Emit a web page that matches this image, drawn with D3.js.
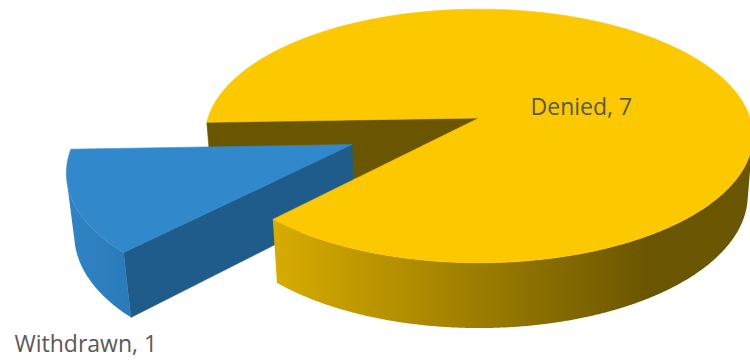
<!DOCTYPE html>
<html><head><meta charset="utf-8">
<script src="https://cdn.jsdelivr.net/npm/d3@7"></script>
<style>html,body{margin:0;padding:0;background:#fff} svg{display:block}</style>
</head><body>
<script>
// ---- data ----
const categories = ["Denied", "Withdrawn"];
const values = [7, 1];
const labels = ["Denied, 7", "Withdrawn, 1"];

// ---- view / style config ----
const W = 750, H = 360;
const view = {cx: 479, cy: 118, F: 1700, D: 1, tilt: 27.3 * Math.PI / 180,
              R: 0.1594, depth: 0.0396, startDeg: 268};
const explode = {Denied: 0, Withdrawn: 0.0797};
const palette = {
  Denied:    {top: "#FCC800", side: "#6B5600", wall: [["0", "#D8AC00"], ["0.78", "#6B5600"], ["1", "#6A5500"]]},
  Withdrawn: {top: "#3189CB", side: "#1F5C8C", wall: [["0", "#2F84C6"], ["1", "#2A7AB9"]]}
};
const labelPos = {
  Denied:    {r: 0.4, z: 0, dx: 6, dy: 17},
  Withdrawn: {r: 1, z: -1, dx: 4.5, dy: 86.5}
};

const sinA = Math.sin(view.tilt), cosA = Math.cos(view.tilt);
function project(p) {
  const [x, y, z] = p;
  const v = y * sinA + z * cosA;
  const w = y * cosA - z * sinA;
  const s = view.F / (view.D + w);
  return [view.cx + x * s, view.cy - v * s, w];
}
const cam = [0, -view.D * cosA, view.D * sinA];

const svg = d3.select("body").append("svg").attr("width", W).attr("height", H);
const defs = svg.append("defs");

const start = view.startDeg * Math.PI / 180;
const pie = d3.pie().sort(null).value(d => d.value).startAngle(start).endAngle(start + 2 * Math.PI);
const arcs = pie(categories.map((c, i) => ({name: c, value: values[i], label: labels[i]})));

const faces = [];
const step = Math.PI / 720;
const R = view.R, h = view.depth;

arcs.forEach((a, i) => {
  const name = a.data.name, pal = palette[name];
  const mid = (a.startAngle + a.endAngle) / 2, e = explode[name];
  const ox = e * Math.sin(mid), oy = e * Math.cos(mid);
  a.ox = ox; a.oy = oy; a.mid = mid;
  const P = (phi, r, z) => [ox + r * Math.sin(phi), oy + r * Math.cos(phi), z];
  const n = Math.max(2, Math.ceil((a.endAngle - a.startAngle) / step));
  const phis = d3.range(n + 1).map(k => a.startAngle + (a.endAngle - a.startAngle) * k / n);

  // top face
  faces.push({group: 2, pts: [P(0, 0, 0), ...phis.map(p => P(p, R, 0))], fill: pal.top, stroke: pal.top});

  // radial faces
  [[a.startAngle, a.startAngle - Math.PI / 2], [a.endAngle, a.endAngle + Math.PI / 2]].forEach(([phi, nd]) => {
    const nx = Math.sin(nd), ny = Math.cos(nd);
    if ((cam[0] - ox) * nx + (cam[1] - oy) * ny > 0) {
      faces.push({group: 0, pts: [P(0, 0, 0), P(phi, R, 0), P(phi, R, -h), P(0, 0, -h)], fill: pal.side, stroke: pal.side});
    }
  });

  // outer wall (front-facing part)
  const vis = phis.filter(p => (cam[0] - (ox + R * Math.sin(p))) * Math.sin(p) +
                               (cam[1] - (oy + R * Math.cos(p))) * Math.cos(p) > 0);
  if (vis.length > 1) {
    const pts = [...vis.map(p => P(p, R, 0)), ...vis.slice().reverse().map(p => P(p, R, -h))];
    const xs = pts.map(p => project(p)[0]);
    const id = "wall" + i;
    const g = defs.append("linearGradient").attr("id", id).attr("gradientUnits", "userSpaceOnUse")
      .attr("x1", d3.min(xs)).attr("x2", d3.max(xs)).attr("y1", 0).attr("y2", 0);
    pal.wall.forEach(([o, c]) => g.append("stop").attr("offset", o).attr("stop-color", c));
    faces.push({group: 1, pts, fill: `url(#${id})`, stroke: "none"});
  }
});

faces.forEach(f => {
  f.scr = f.pts.map(project);
  f.depth = d3.mean(f.scr, p => p[2]);
});
faces.sort((a, b) => a.group - b.group || b.depth - a.depth);

const line = d3.line().x(d => d[0]).y(d => d[1]);
svg.append("g").selectAll("path").data(faces).join("path")
  .attr("d", f => line(f.scr) + "Z")
  .attr("fill", f => f.fill)
  .attr("stroke", f => f.stroke)
  .attr("stroke-width", 0.6)
  .attr("stroke-linejoin", "round");

// labels
svg.append("g").selectAll("text").data(arcs).join("text")
  .attr("x", a => {
    const lp = labelPos[a.data.name];
    return project([a.ox + lp.r * R * Math.sin(a.mid), a.oy + lp.r * R * Math.cos(a.mid), lp.z * h])[0] + lp.dx;
  })
  .attr("y", a => {
    const lp = labelPos[a.data.name];
    return project([a.ox + lp.r * R * Math.sin(a.mid), a.oy + lp.r * R * Math.cos(a.mid), lp.z * h])[1] + lp.dy;
  })
  .attr("text-anchor", "middle")
  .attr("font-family", "'Open Sans', sans-serif")
  .attr("font-size", 23)
  .attr("fill", "#595959")
  .text(a => a.data.label);
</script>
</body></html>
